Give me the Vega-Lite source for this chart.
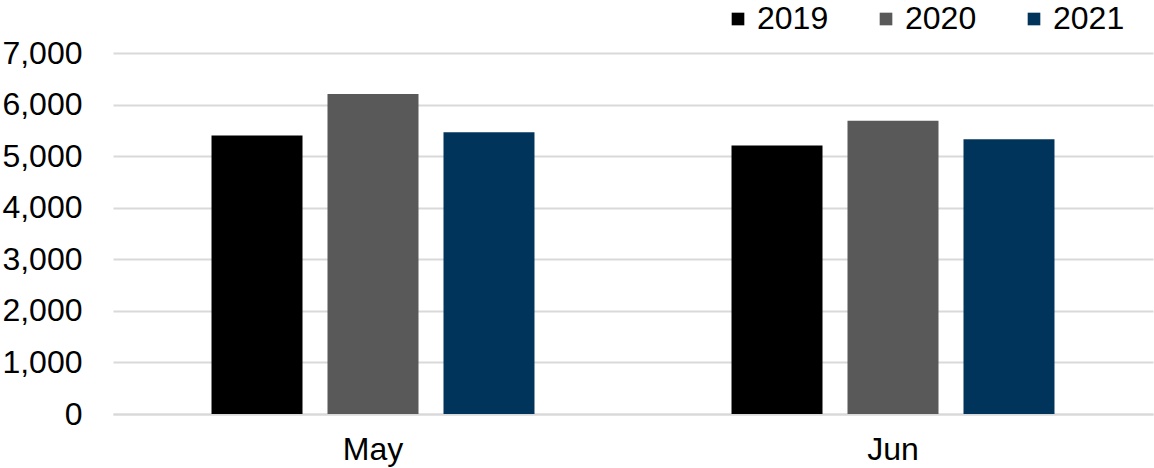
{
  "$schema": "https://vega.github.io/schema/vega-lite/v6.json",
  "width": 1040,
  "height": 361,
  "autosize": {"type": "none"},
  "padding": {"left": 113, "top": 53, "right": 1, "bottom": 54},
  "background": "white",
  "config": {
    "view": {"stroke": null},
    "font": "Liberation Sans"
  },
  "data": {
    "values": [
      {"month": "May", "year": "2019", "value": 5400},
      {"month": "May", "year": "2020", "value": 6205},
      {"month": "May", "year": "2021", "value": 5465},
      {"month": "Jun", "year": "2019", "value": 5205},
      {"month": "Jun", "year": "2020", "value": 5687},
      {"month": "Jun", "year": "2021", "value": 5327}
    ]
  },
  "mark": {"type": "bar"},
  "encoding": {
    "x": {
      "field": "month",
      "type": "nominal",
      "sort": ["May", "Jun"],
      "scale": {"paddingInner": 0.3308, "paddingOuter": 0.1654},
      "axis": {
        "title": null,
        "labelAngle": 0,
        "labelFontSize": 32,
        "labelColor": "#000000",
        "labelPadding": 20,
        "ticks": false,
        "domainColor": "#d9d9d9",
        "domainWidth": 2
      }
    },
    "xOffset": {
      "field": "year",
      "type": "nominal",
      "scale": {"paddingInner": 0.2155, "paddingOuter": 0.1078}
    },
    "y": {
      "field": "value",
      "type": "quantitative",
      "scale": {"domain": [0, 7000]},
      "axis": {
        "title": null,
        "values": [0, 1000, 2000, 3000, 4000, 5000, 6000, 7000],
        "format": ",d",
        "labelFontSize": 32,
        "labelColor": "#000000",
        "labelPadding": 31,
        "ticks": false,
        "domain": false,
        "gridColor": "#d9d9d9",
        "gridWidth": 2
      }
    },
    "color": {
      "field": "year",
      "type": "nominal",
      "scale": {"domain": ["2019", "2020", "2021"], "range": ["#000000", "#595959", "#00345b"]},
      "legend": {
        "title": null,
        "orient": "none",
        "direction": "horizontal",
        "legendX": 609,
        "legendY": -50,
        "symbolType": "square",
        "symbolSize": 160,
        "symbolStrokeWidth": 0,
        "labelFontSize": 32,
        "labelColor": "#000000",
        "labelOffset": 3,
        "columnPadding": 41
      }
    }
  }
}
